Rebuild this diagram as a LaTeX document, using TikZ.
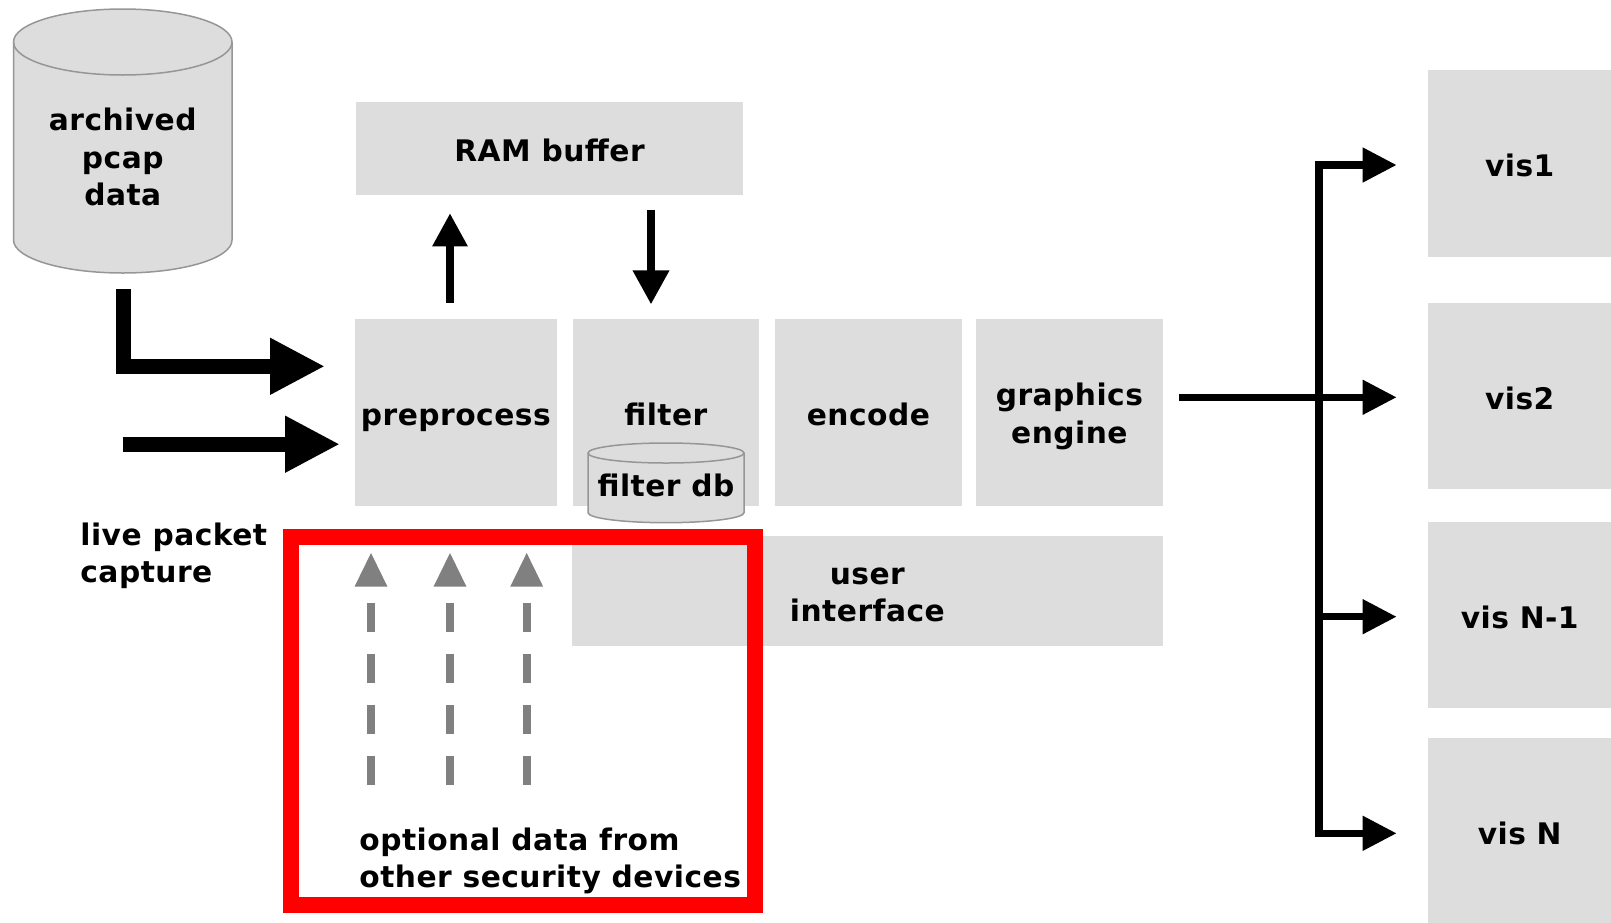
\documentclass[tikz,border=0pt]{standalone}
\usepackage{fontspec}
\setmainfont{DejaVu Sans}[LetterSpace=1.6]
\usetikzlibrary{arrows.meta}
\definecolor{boxgray}{RGB}{221,221,221}
\definecolor{rimgray}{RGB}{150,150,150}
\definecolor{feedgray}{RGB}{128,128,128}
\tikzset{fanhead/.tip={Triangle[length=17pt,width=16.5pt]}}
\begin{document}
\begin{tikzpicture}[x=0.5pt, y=-0.5pt,
  font=\bfseries\fontsize{14.85}{18.6}\selectfont,
  block/.style={fill=boxgray, inner sep=0pt, align=center},
  oneline/.style={text height=13pt, text depth=0pt},
  drum/.style={fill=boxgray, draw=rimgray, line width=0.75pt},
  thickarrow/.style={line width=7.5pt, line join=miter, -{Triangle[length=27.5pt,width=26.5pt]}},
  midarrow/.style={line width=3.6pt, -{Triangle[length=16.5pt,width=16.8pt]}},
  fanarrow/.style={line width=3.75pt, line join=miter},
  feed/.style={draw=feedgray, line width=3.85pt, dash pattern=on 14.5pt off 11pt},
  plain/.style={inner sep=0pt, align=left}]
\useasboundingbox (0,0) rectangle (1611,922);

% archived data store
\path[drum] (13.5,42) -- (13.5,240)
  arc[start angle=180, end angle=360, x radius=54.625pt, y radius=16.5pt]
  -- (232,42)
  arc[start angle=0, end angle=180, x radius=54.625pt, y radius=16.5pt] -- cycle;
\draw[rimgray, line width=0.75pt] (13.5,42)
  arc[start angle=180, end angle=360, x radius=54.625pt, y radius=16.5pt];
\node[align=center, inner sep=0pt] (arch) at (122.75,157) {archived\\pcap\\data};

% processing blocks
\node[block, oneline, minimum width=193.8pt, minimum height=46.35pt] (ram) at (549.5,148.65) {RAM buffer};
\node[block, oneline, minimum width=100.85pt, minimum height=93.1pt] (pre) at (455.85,412.4) {preprocess};
\node[block, oneline, minimum width=93.15pt, minimum height=93.1pt] (filt) at (665.85,412.4) {filter};
\node[block, oneline, minimum width=93.35pt, minimum height=93.1pt] (enc) at (868.35,412.4) {encode};
\node[block, minimum width=93.35pt, minimum height=93.1pt] (gfx) at (1069.35,412.4) {\rule{0pt}{15.3pt}graphics\\engine};
\node[block, minimum width=295.35pt, minimum height=54.85pt] (ui) at (867.35,590.85) {\rule{0pt}{12.1pt}user\\interface};

% filter database
\path[drum] (588,453) -- (588,512.7)
  arc[start angle=180, end angle=360, x radius=39pt, y radius=5pt]
  -- (744,453)
  arc[start angle=0, end angle=180, x radius=39pt, y radius=5pt] -- cycle;
\draw[rimgray, line width=0.75pt] (588,453)
  arc[start angle=180, end angle=360, x radius=39pt, y radius=5pt];
\node[inner sep=0pt] (fdb) at (666,485) {filter db};

% visualisation outputs
\node[block, oneline, minimum width=91.35pt, minimum height=93.35pt] (vis1) at (1519.65,163.35) {vis1};
\node[block, oneline, minimum width=91.35pt, minimum height=93pt] (vis2) at (1519.65,396.3) {vis2};
\node[block, oneline, minimum width=91.35pt, minimum height=93.3pt] (visn1) at (1519.65,615) {vis N-1};
\node[block, oneline, minimum width=91.35pt, minimum height=93.35pt] (visn) at (1519.65,831.65) {vis N};

% input feeds
\coordinate (archOut) at (123.3,289);
\coordinate (preInA) at (325,366.3);
\draw[thickarrow] (archOut) |- (preInA);
\coordinate (liveOut) at (122.7,444.2);
\coordinate (preInB) at (340,444.2);
\draw[thickarrow] (liveOut) -- (preInB);
\node[plain, anchor=west] (live) at (80,553.5) {\rule{0pt}{13.3pt}live packet\\capture};

% buffer traffic
\coordinate (upFrom) at (450,302.7);
\coordinate (upTo) at (450,213.3);
\draw[midarrow] (upFrom) -- (upTo);
\coordinate (downFrom) at (651,210);
\coordinate (downTo) at (651,304.3);
\draw[line width=3.6pt, -{Triangle[length=17pt,width=17.5pt]}] (downFrom) -- (downTo);

% fan-out to the visualisations
\coordinate (gfxOut) at (1179,397.3);
\coordinate (tapN1) at (1319,616.7);
\coordinate (trunkBot) at (1319,833.3);
\coordinate (v1in) at (1396.7,165);
\coordinate (v2in) at (1396.7,397.3);
\coordinate (v3in) at (1396.7,616.7);
\coordinate (vNin) at (1396.7,833.3);
\draw[fanarrow, fanhead-fanhead] (v1in) -| (trunkBot) -- (vNin);
\draw[fanarrow, -fanhead] (gfxOut) -- (v2in);
\draw[fanarrow, -fanhead] (tapN1) -- (v3in);

% optional external sources
\foreach \fx [count=\i] in {371,450,526.7} {
  \coordinate (feedLow\i) at (\fx,785);
  \coordinate (feedHigh\i) at (\fx,603.3);
  \draw[feed] (feedLow\i) -- (feedHigh\i);
  \fill[feedgray] (\fx-16.5,586.7) -- (\fx,553) -- (\fx+16.5,586.7) -- cycle;
}
\node[draw=red, line width=8pt, minimum width=231.85pt, minimum height=183.85pt, inner sep=0pt] (optbox) at (522.85,720.85) {};
\node[plain, anchor=west] (opttext) at (359,857.5) {\rule{0pt}{14.3pt}optional data from\\other security devices};
\end{tikzpicture}
\end{document}
